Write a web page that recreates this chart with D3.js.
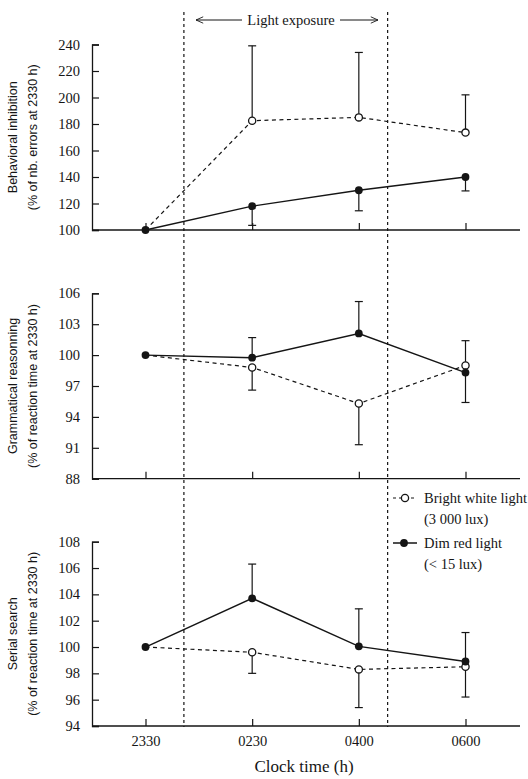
<!DOCTYPE html>
<html><head><meta charset="utf-8">
<script src="https://cdn.jsdelivr.net/npm/d3@7"></script>
<style>
html,body{margin:0;padding:0;background:#fff;}
svg{display:block;}
</style></head>
<body>
<svg id="chart" width="528" height="779"></svg>
<script>
// ---- data ----
const categories = ["2330", "0230", "0400", "0600"];

const inhibitionBright = [100, 182.5, 185, 173.5];
const inhibitionBrightErr = [null, 239, 234, 202];
const inhibitionDim = [100, 118, 130, 140];
const inhibitionDimErr = [null, 103.5, 114.5, 129.5];
const inhibitionTicks = [100, 120, 140, 160, 180, 200, 220, 240];

const grammarBright = [100, 98.8, 95.3, 99.0];
const grammarBrightErr = [null, 96.6, 91.3, 101.4];
const grammarDim = [100, 99.75, 102.1, 98.3];
const grammarDimErr = [null, 101.7, 105.2, 95.4];
const grammarTicks = [88, 91, 94, 97, 100, 103, 106];

const searchBright = [100, 99.6, 98.3, 98.5];
const searchBrightErr = [null, 98.0, 95.4, 96.2];
const searchDim = [100, 103.7, 100.05, 98.9];
const searchDimErr = [null, 106.3, 102.9, 101.1];
const searchTicks = [94, 96, 98, 100, 102, 104, 106, 108];

// light exposure boundaries, in category-index units
const lightBounds = [0.36, 2.27];

// ---- drawing ----
const svg = d3.select("#chart");
const ink = "#151515";
const serif = "'Liberation Serif','Times New Roman',serif";
const sans = "'Liberation Sans',Arial,sans-serif";

const x = d3.scaleLinear().domain([0, 3]).range([145.5, 465.5]);
const axisLeft = 92, axisRight = 520;

const panels = [
  {title: "Behavioral inhibition", sub: "(% of nb. errors at 2330 h)", ticks: inhibitionTicks,
   range: [230, 44.5], bright: inhibitionBright, brightErr: inhibitionBrightErr, dim: inhibitionDim, dimErr: inhibitionDimErr},
  {title: "Grammatical reasonning", sub: "(% of reaction time at 2330 h)", ticks: grammarTicks,
   range: [478.7, 293.3], bright: grammarBright, brightErr: grammarBrightErr, dim: grammarDim, dimErr: grammarDimErr},
  {title: "Serial search", sub: "(% of reaction time at 2330 h)", ticks: searchTicks,
   range: [726, 541.7], bright: searchBright, brightErr: searchBrightErr, dim: searchDim, dimErr: searchDimErr}
];

// vertical dashed light-exposure lines
lightBounds.forEach(b => {
  svg.append("line").attr("x1", x(b)).attr("x2", x(b)).attr("y1", 12).attr("y2", 727)
    .attr("stroke", ink).attr("stroke-width", 1.2).attr("stroke-dasharray", "3,3");
});

// Light exposure header
const hy = 20;
svg.append("text").attr("x", 291).attr("y", hy + 5).attr("text-anchor", "middle")
  .attr("font-family", serif).attr("font-size", 14.5).attr("fill", ink).text("Light exposure");
svg.append("defs").append("marker").attr("id", "arr").attr("viewBox", "0 0 10 10")
  .attr("refX", 9).attr("refY", 5).attr("markerWidth", 9).attr("markerHeight", 8).attr("orient", "auto-start-reverse")
  .attr("markerUnits", "userSpaceOnUse")
  .append("path").attr("d", "M0,1 L9,5 L0,9").attr("fill", "none").attr("stroke", ink).attr("stroke-width", 1.1);
svg.append("line").attr("x1", 242).attr("x2", 196).attr("y1", hy).attr("y2", hy)
  .attr("stroke", ink).attr("stroke-width", 1).attr("marker-end", "url(#arr)");
svg.append("line").attr("x1", 340).attr("x2", 378).attr("y1", hy).attr("y2", hy)
  .attr("stroke", ink).attr("stroke-width", 1).attr("marker-end", "url(#arr)");

panels.forEach(p => {
  const y = d3.scaleLinear().domain([p.ticks[0], p.ticks[p.ticks.length - 1]]).range(p.range);
  const g = svg.append("g");

  // y axis (ticks inward)
  const ya = g.append("g").attr("transform", `translate(${axisLeft},0)`)
    .call(d3.axisLeft(y).tickValues(p.ticks).tickSize(-7).tickPadding(12).tickFormat(d3.format("d")));
  ya.select(".domain").attr("stroke", ink).attr("stroke-width", 1.3);
  ya.selectAll(".tick line").attr("stroke", ink).attr("stroke-width", 1.2);
  ya.selectAll(".tick text").attr("font-family", serif).attr("font-size", 14.5).attr("fill", ink);

  // x axis (ticks inward)
  const xa = g.append("g").attr("transform", `translate(0,${p.range[0]})`)
    .call(d3.axisBottom(x).tickValues([0, 1, 2, 3]).tickSize(-7).tickFormat(i => categories[i]).tickPadding(10));
  xa.select(".domain").attr("d", `M${axisLeft},0H${axisRight}`).attr("stroke", ink).attr("stroke-width", 1.3);
  xa.selectAll(".tick line").attr("stroke", ink).attr("stroke-width", 1.2);
  xa.selectAll(".tick text").attr("font-family", serif).attr("font-size", 14.5).attr("fill", ink)
    .style("display", p === panels[2] ? null : "none");

  // axis titles
  const cy = (p.range[0] + p.range[1]) / 2;
  g.append("text").attr("transform", `translate(17,${cy}) rotate(-90)`).attr("text-anchor", "middle")
    .attr("font-family", sans).attr("font-size", 12.5).attr("fill", ink).text(p.title);
  g.append("text").attr("transform", `translate(37,${cy}) rotate(-90)`).attr("text-anchor", "middle")
    .attr("font-family", sans).attr("font-size", 12.5).attr("fill", ink).text(p.sub);

  // error bars
  const errs = [];
  p.bright.forEach((v, i) => { if (p.brightErr[i] != null) errs.push([i, v, p.brightErr[i]]); });
  p.dim.forEach((v, i) => { if (p.dimErr[i] != null) errs.push([i, v, p.dimErr[i]]); });
  errs.forEach(([i, v, e]) => {
    g.append("line").attr("x1", x(i)).attr("x2", x(i)).attr("y1", y(v)).attr("y2", y(e))
      .attr("stroke", ink).attr("stroke-width", 1.2);
    g.append("line").attr("x1", x(i) - 4).attr("x2", x(i) + 4).attr("y1", y(e)).attr("y2", y(e))
      .attr("stroke", ink).attr("stroke-width", 1.2);
  });

  const line = d3.line().x((d, i) => x(i)).y(d => y(d));
  g.append("path").attr("d", line(p.bright)).attr("fill", "none").attr("stroke", ink)
    .attr("stroke-width", 1.2).attr("stroke-dasharray", "4,3.5");
  g.append("path").attr("d", line(p.dim)).attr("fill", "none").attr("stroke", ink).attr("stroke-width", 1.4);

  g.selectAll(".ob").data(p.bright).enter().filter((d, i) => i > 0).append("circle")
    .attr("cx", (d, i) => x(i + 1)).attr("cy", d => y(d)).attr("r", 3.6)
    .attr("fill", "#fff").attr("stroke", ink).attr("stroke-width", 1.3);
  g.selectAll(".fd").data(p.dim).enter().append("circle")
    .attr("cx", (d, i) => x(i)).attr("cy", d => y(d)).attr("r", 3.9).attr("fill", ink);
});

// x axis title
svg.append("text").attr("x", 304).attr("y", 772).attr("text-anchor", "middle")
  .attr("font-family", serif).attr("font-size", 17).attr("fill", ink).text("Clock time (h)");

// legend
const lg = svg.append("g");
lg.append("line").attr("x1", 393).attr("x2", 414).attr("y1", 498).attr("y2", 498)
  .attr("stroke", ink).attr("stroke-width", 1.2).attr("stroke-dasharray", "3,3");
lg.append("circle").attr("cx", 405).attr("cy", 498).attr("r", 3.6).attr("fill", "#fff").attr("stroke", ink).attr("stroke-width", 1.3);
lg.append("line").attr("x1", 393).attr("x2", 417).attr("y1", 543).attr("y2", 543).attr("stroke", ink).attr("stroke-width", 1.5);
lg.append("circle").attr("cx", 404).attr("cy", 543).attr("r", 3.9).attr("fill", ink);
const legText = [["Bright white light", 503], ["(3 000 lux)", 524], ["Dim red light", 548], ["(< 15 lux)", 569]];
legText.forEach(([t, yy]) => {
  lg.append("text").attr("x", 424).attr("y", yy).attr("font-family", serif).attr("font-size", 14.5)
    .attr("fill", ink).text(t);
});
</script>
</body></html>
